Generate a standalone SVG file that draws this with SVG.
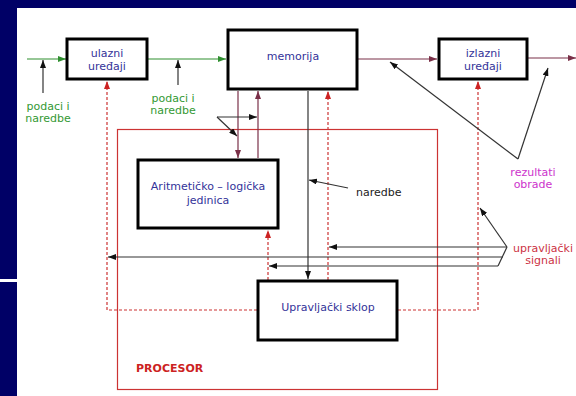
<svg xmlns="http://www.w3.org/2000/svg" width="576" height="396" viewBox="0 0 576 396">
  <style>
    text { font-family: "DejaVu Sans", Verdana, sans-serif; font-size: 11px; }
    .lbl { fill: #333399; text-anchor: middle; }
    .green { fill: #339933; text-anchor: middle; }
    .blk { fill: #222222; }
    .mag { fill: #cc33cc; text-anchor: middle; }
    .sig { fill: #cc3344; text-anchor: middle; }
    .proc { fill: #cc2222; font-weight: bold; }
    .box { fill: #ffffff; stroke: #000000; stroke-width: 3; }
    .g { stroke: #2f8f2f; stroke-width: 1.2; fill: none; }
    .m { stroke: #7a3048; stroke-width: 1.2; fill: none; }
    .k { stroke: #333333; stroke-width: 1.2; fill: none; }
    .d { stroke: #cc3333; stroke-width: 1.2; fill: none; stroke-dasharray: 3 2; }
  </style>
  <defs>
    <marker id="ag" viewBox="0 0 8 6" refX="8" refY="3" markerWidth="8" markerHeight="6" markerUnits="userSpaceOnUse" orient="auto">
      <path d="M0,0 L8,3 L0,6 Z" fill="#2f8f2f"/>
    </marker>
    <marker id="am" viewBox="0 0 8 6" refX="8" refY="3" markerWidth="8" markerHeight="6" markerUnits="userSpaceOnUse" orient="auto">
      <path d="M0,0 L8,3 L0,6 Z" fill="#7a3048"/>
    </marker>
    <marker id="ak" viewBox="0 0 8 6" refX="8" refY="3" markerWidth="8" markerHeight="6" markerUnits="userSpaceOnUse" orient="auto">
      <path d="M0,0 L8,3 L0,6 Z" fill="#111111"/>
    </marker>
    <marker id="ar" viewBox="0 0 8 6" refX="8" refY="3" markerWidth="8" markerHeight="6" markerUnits="userSpaceOnUse" orient="auto">
      <path d="M0,0 L8,3 L0,6 Z" fill="#cc2222"/>
    </marker>
  </defs>

  <!-- slide frame -->
  <rect x="0" y="0" width="576" height="396" fill="#ffffff"/>
  <rect x="0" y="0" width="576" height="8" fill="#000066"/>
  <rect x="0" y="0" width="17" height="396" fill="#000066"/>
  <rect x="0" y="279" width="17" height="3" fill="#ffffff"/>

  <!-- processor boundary -->
  <g id="procesor">
    <rect x="117.5" y="129.5" width="320" height="260" fill="none" stroke="#cc3333" stroke-width="1.2"/>
    <text class="proc" x="136" y="372">PROCESOR</text>
  </g>

  <!-- connectors -->
  <g id="connectors">
    <!-- data path -->
    <line class="g" x1="27" y1="59" x2="66" y2="59" marker-end="url(#ag)"/>
    <line class="g" x1="148" y1="59" x2="226" y2="59" marker-end="url(#ag)"/>
    <line class="m" x1="358" y1="59" x2="437" y2="59" marker-end="url(#am)"/>
    <line class="m" x1="528" y1="58" x2="576" y2="58" marker-end="url(#am)"/>
    <!-- memory <-> ALU -->
    <line class="m" x1="238" y1="91" x2="238" y2="158" marker-end="url(#am)"/>
    <line class="m" x1="258" y1="158" x2="258" y2="91" marker-end="url(#am)"/>
    <!-- memory -> control unit (instructions) -->
    <line class="k" x1="308" y1="91" x2="308" y2="279" marker-end="url(#ak)"/>
    <!-- control signals (dashed) -->
    <line class="d" x1="328" y1="280" x2="328" y2="91" marker-end="url(#ar)"/>
    <line class="d" x1="268" y1="280" x2="268" y2="230" marker-end="url(#ar)"/>
    <polyline class="d" points="257,310 107,310 107,81" marker-end="url(#ar)"/>
    <polyline class="d" points="398,310 478,310 478,81" marker-end="url(#ar)"/>
    <!-- annotation pointers -->
    <line class="k" x1="43" y1="93" x2="43" y2="60" marker-end="url(#ak)"/>
    <line class="k" x1="178" y1="85" x2="178" y2="60" marker-end="url(#ak)"/>
    <line class="k" x1="217" y1="117" x2="257" y2="117" marker-end="url(#ak)"/>
    <line class="k" x1="217" y1="117" x2="237" y2="136" marker-end="url(#ak)"/>
    <line class="k" x1="348" y1="188" x2="309" y2="180" marker-end="url(#ak)"/>
    <line class="k" x1="518" y1="159" x2="390" y2="62" marker-end="url(#ak)"/>
    <line class="k" x1="518" y1="159" x2="548" y2="68" marker-end="url(#ak)"/>
    <line class="k" x1="507" y1="247" x2="480" y2="208" marker-end="url(#ak)"/>
    <polyline class="k" points="507,247 498,266"/>
    <line class="k" x1="507" y1="247" x2="329" y2="247" marker-end="url(#ak)"/>
    <line class="k" x1="503" y1="257" x2="108" y2="257" marker-end="url(#ak)"/>
    <line class="k" x1="498" y1="266" x2="269" y2="266" marker-end="url(#ak)"/>
  </g>

  <!-- units -->
  <g id="ulazni">
    <rect class="box" x="67" y="39" width="80" height="40"/>
    <text class="lbl" x="107" y="57">ulazni</text>
    <text class="lbl" x="107" y="70">uređaji</text>
  </g>
  <g id="memorija">
    <rect class="box" x="228" y="30" width="129" height="59"/>
    <text class="lbl" x="293" y="60">memorija</text>
  </g>
  <g id="izlazni">
    <rect class="box" x="439" y="39" width="88" height="40"/>
    <text class="lbl" x="483" y="57">izlazni</text>
    <text class="lbl" x="483" y="70">uređaji</text>
  </g>
  <g id="alu">
    <rect class="box" x="138" y="160" width="140" height="68"/>
    <text class="lbl" x="208" y="190">Aritmetičko – logička</text>
    <text class="lbl" x="208" y="204">jedinica</text>
  </g>
  <g id="upravljacki">
    <rect class="box" x="258" y="281" width="139" height="59"/>
    <text class="lbl" x="328" y="311">Upravljački sklop</text>
  </g>

  <!-- labels -->
  <g id="labels">
    <text class="green" x="48" y="110">podaci i</text>
    <text class="green" x="48" y="122">naredbe</text>
    <text class="green" x="173" y="102">podaci i</text>
    <text class="green" x="173" y="114">naredbe</text>
    <text class="blk" x="356" y="196">naredbe</text>
    <text class="mag" x="533" y="176">rezultati</text>
    <text class="mag" x="533" y="188">obrade</text>
    <text class="sig" x="543" y="252">upravljački</text>
    <text class="sig" x="543" y="264">signali</text>
  </g>
</svg>
